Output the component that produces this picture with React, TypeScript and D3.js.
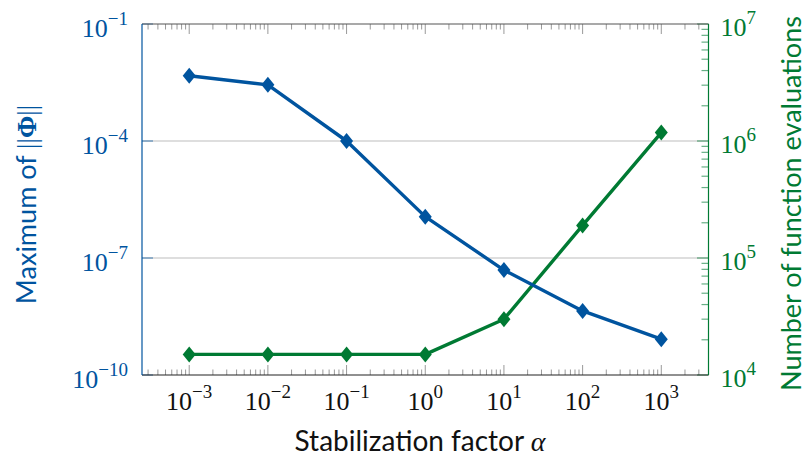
import React from "react";
import * as d3 from "d3";

// stabilization factor alpha
const alphas = [1e-3, 1e-2, 1e-1, 1e0, 1e1, 1e2, 1e3];
// maximum of ||Phi|| (left axis)
const maxPhi = [4.7e-3, 2.75e-3, 1.0e-4, 1.15e-6, 4.9e-8, 4.4e-9, 8.3e-10];
// number of function evaluations (right axis)
const funEvals = [1.5e4, 1.5e4, 1.5e4, 1.5e4, 3.0e4, 1.9e5, 1.18e6];

const xTickExp = [-3, -2, -1, 0, 1, 2, 3];
const leftTickExp = [-1, -4, -7, -10];
const rightTickExp = [7, 6, 5, 4];

const BLUE = "#00549F";
const GREEN = "#007A33";

export default function App() {
  const W = 809, H = 457;
  const left = 142, right = 708.5, top = 24, bottom = 375;

  const x = d3.scaleLog().domain([10 ** -3.6, 10 ** 3.6]).range([left, right]);
  const yL = d3.scaleLog().domain([1e-10, 1e-1]).range([bottom, top]);
  const yR = d3.scaleLog().domain([1e4, 1e7]).range([bottom, top]);

  // minor ticks (2..9 per decade)
  const xMinor: number[] = [];
  for (let k = -4; k <= 3; k++) {
    for (let m = 2; m <= 9; m++) {
      const v = m * 10 ** k;
      if (v > x.domain()[0] && v < x.domain()[1]) xMinor.push(v);
    }
  }
  const rMinor: number[] = [];
  for (let k = 4; k <= 6; k++) {
    for (let m = 2; m <= 9; m++) rMinor.push(m * 10 ** k);
  }

  const lineL = d3.line<number>().x((d, i) => x(alphas[i])).y((d) => yL(d));
  const lineR = d3.line<number>().x((d, i) => x(alphas[i])).y((d) => yR(d));

  const diamond = (cx: number, cy: number) =>
    `M${cx},${cy - 8}L${cx + 6.5},${cy}L${cx},${cy + 8}L${cx - 6.5},${cy}Z`;

  const serif = "'Liberation Serif', serif";
  const sans = "Lato, 'Open Sans', sans-serif";

  return (
    <svg width={W} height={H} style={{ position: "absolute", left: 0, top: 0 }}>
      <rect width={W} height={H} fill="white" />

      {/* grid lines */}
      {[-4, -7].map((e) => (
        <line key={e} x1={left} x2={right} y1={yL(10 ** e)} y2={yL(10 ** e)}
          stroke="#bdbdbd" strokeWidth={1.2} />
      ))}

      {/* x ticks, bottom and top */}
      {xMinor.map((v, i) => (
        <g key={"xm" + i} stroke="#999" strokeWidth={1}>
          <line x1={x(v)} x2={x(v)} y1={bottom} y2={bottom - 5.5} />
          <line x1={x(v)} x2={x(v)} y1={top} y2={top + 5.5} />
        </g>
      ))}
      {xTickExp.map((e) => (
        <g key={"xM" + e} stroke="#999" strokeWidth={1}>
          <line x1={x(10 ** e)} x2={x(10 ** e)} y1={bottom} y2={bottom - 10} />
          <line x1={x(10 ** e)} x2={x(10 ** e)} y1={top} y2={top + 10} />
        </g>
      ))}

      {/* left ticks */}
      {leftTickExp.map((e) => (
        <line key={"lt" + e} x1={left} x2={left + 11} y1={yL(10 ** e)} y2={yL(10 ** e)}
          stroke={BLUE} strokeOpacity={0.6} strokeWidth={1.2} />
      ))}

      {/* right ticks */}
      {rMinor.map((v, i) => (
        <line key={"rm" + i} x1={right} x2={right - 7} y1={yR(v)} y2={yR(v)}
          stroke={GREEN} strokeOpacity={0.6} strokeWidth={1.2} />
      ))}
      {rightTickExp.map((e) => (
        <line key={"rM" + e} x1={right} x2={right - 11.5} y1={yR(10 ** e)} y2={yR(10 ** e)}
          stroke={GREEN} strokeOpacity={0.6} strokeWidth={1.2} />
      ))}

      {/* frame */}
      <line x1={left} x2={right} y1={top} y2={top} stroke="#555" strokeWidth={1.2} />
      <line x1={left} x2={right} y1={bottom} y2={bottom} stroke="#222" strokeWidth={1.2} />
      <line x1={left} x2={left} y1={top} y2={bottom} stroke={BLUE} strokeWidth={1.2} />
      <line x1={right} x2={right} y1={top} y2={bottom} stroke={GREEN} strokeWidth={1.2} />

      {/* series */}
      <path d={lineR(funEvals) || ""} fill="none" stroke={GREEN} strokeWidth={3.4} strokeLinejoin="round" />
      {funEvals.map((v, i) => (
        <path key={"gm" + i} d={diamond(x(alphas[i]), yR(v))} fill={GREEN} />
      ))}
      <path d={lineL(maxPhi) || ""} fill="none" stroke={BLUE} strokeWidth={3.4} strokeLinejoin="round" />
      {maxPhi.map((v, i) => (
        <path key={"bm" + i} d={diamond(x(alphas[i]), yL(v))} fill={BLUE} />
      ))}

      {/* x tick labels */}
      {xTickExp.map((e) => (
        <text key={"xl" + e} x={x(10 ** e)} y={bottom + 35} textAnchor="middle"
          fontFamily={serif} fontSize={26} fill="#111">
          10<tspan fontSize={19} dy={-12}>{e < 0 ? "\u2212" + -e : e}</tspan>
        </text>
      ))}

      {/* left tick labels */}
      {leftTickExp.map((e) => (
        <text key={"ll" + e} x={left - 14} y={yL(10 ** e) + 13} textAnchor="end"
          fontFamily={serif} fontSize={26} fill={BLUE}>
          10<tspan fontSize={19} dy={-12}>{"\u2212" + -e}</tspan>
        </text>
      ))}

      {/* right tick labels */}
      {rightTickExp.map((e) => (
        <text key={"rl" + e} x={right + 12} y={yR(10 ** e) + 12} textAnchor="start"
          fontFamily={serif} fontSize={26} fill={GREEN}>
          10<tspan fontSize={19} dy={-12}>{e}</tspan>
        </text>
      ))}

      {/* axis titles */}
      <text x={420} y={451} textAnchor="middle" fontFamily={sans} fontSize={28} fill="#111">
        Stabilization factor <tspan fontFamily={serif} fontStyle="italic">α</tspan>
      </text>
      <text transform={`translate(36,${(top + bottom) / 2 + 5}) rotate(-90)`} textAnchor="middle"
        fontFamily={sans} fontSize={27} fill={BLUE}>
        Maximum of <tspan fontFamily={serif}>||</tspan><tspan fontFamily={serif} fontWeight="bold">Φ</tspan><tspan fontFamily={serif}>||</tspan>
      </text>
      <text transform={`translate(801,${(top + bottom) / 2 + 4}) rotate(-90)`} textAnchor="middle"
        fontFamily={sans} fontSize={27} fill={GREEN}>
        Number of function evaluations
      </text>
    </svg>
  );
}
